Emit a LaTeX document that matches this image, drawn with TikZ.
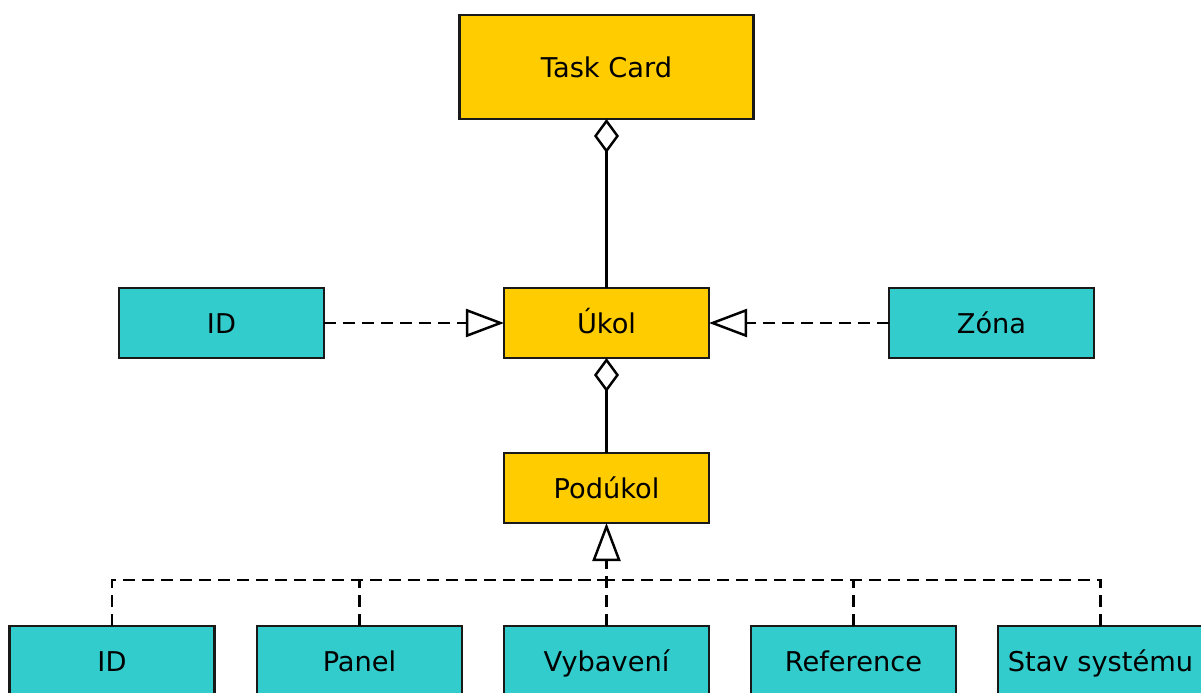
\documentclass[tikz,border=0pt]{standalone}
\usepackage{fontspec}
\setmainfont{DejaVu Sans}
\definecolor{cardyellow}{RGB}{255,204,0}
\definecolor{attrcyan}{RGB}{51,204,204}
\usetikzlibrary{arrows.meta,positioning}

\begin{document}
\begin{tikzpicture}[
    entity/.style={rectangle, draw=black!90, line width=1.4pt, minimum width=4.1cm,
                   minimum height=1.4cm, inner sep=0pt, outer sep=0pt,
                   text height=14.5pt, text depth=2.8pt, font=\fontsize{15.5}{19}\selectfont},
    core/.style={entity, fill=cardyellow},
    attr/.style={entity, fill=attrcyan},
    part/.style={line width=1.4pt, -{Diamond[open, length=0.68cm, width=0.5cm]}},
    link/.style={line width=1.4pt, dash pattern=on 6.8pt off 4pt},
    realize/.style={link, -{Triangle[open, length=0.76cm, width=0.56cm]}}
  ]
    \useasboundingbox (-12.13,6.46) rectangle (11.89,-7.4);

    % Main chain
    \node[core, minimum width=5.88cm, minimum height=2.08cm] (card) at (0,5.12) {Task Card};
    \node[core] (ukol) at (0,0) {Úkol};
    \node[core] (podukol) at (0,-3.3) {Podúkol};
    \draw[part] (ukol) -- (card);
    \draw[part] (podukol) -- (ukol);

    % Attributes of the task
    \node[attr] (ukolid) at (-7.7,0) {ID};
    \node[attr] (zona) at (7.7,0) {Zóna};
    \draw[realize] (ukolid) -- (ukol);
    \draw[realize] (zona) -- (ukol);

    % Attributes of the subtask
    \node[attr] (subid) at (-9.89,-6.76) {ID};
    \node[attr] (panel) at (-4.94,-6.76) {Panel};
    \node[attr] (vybaveni) at (0,-6.76) {Vybavení};
    \node[attr] (reference) at (4.94,-6.76) {Reference};
    \node[attr] (stav) at (9.88,-6.76) {Stav systému};
    \coordinate (bus) at (0,-5.14);
    \draw[realize] (vybaveni) -- (podukol);
    \foreach \n in {subid,panel,reference,stav}
      \draw[link] (\n.north) |- (bus);
\end{tikzpicture}
\end{document}
